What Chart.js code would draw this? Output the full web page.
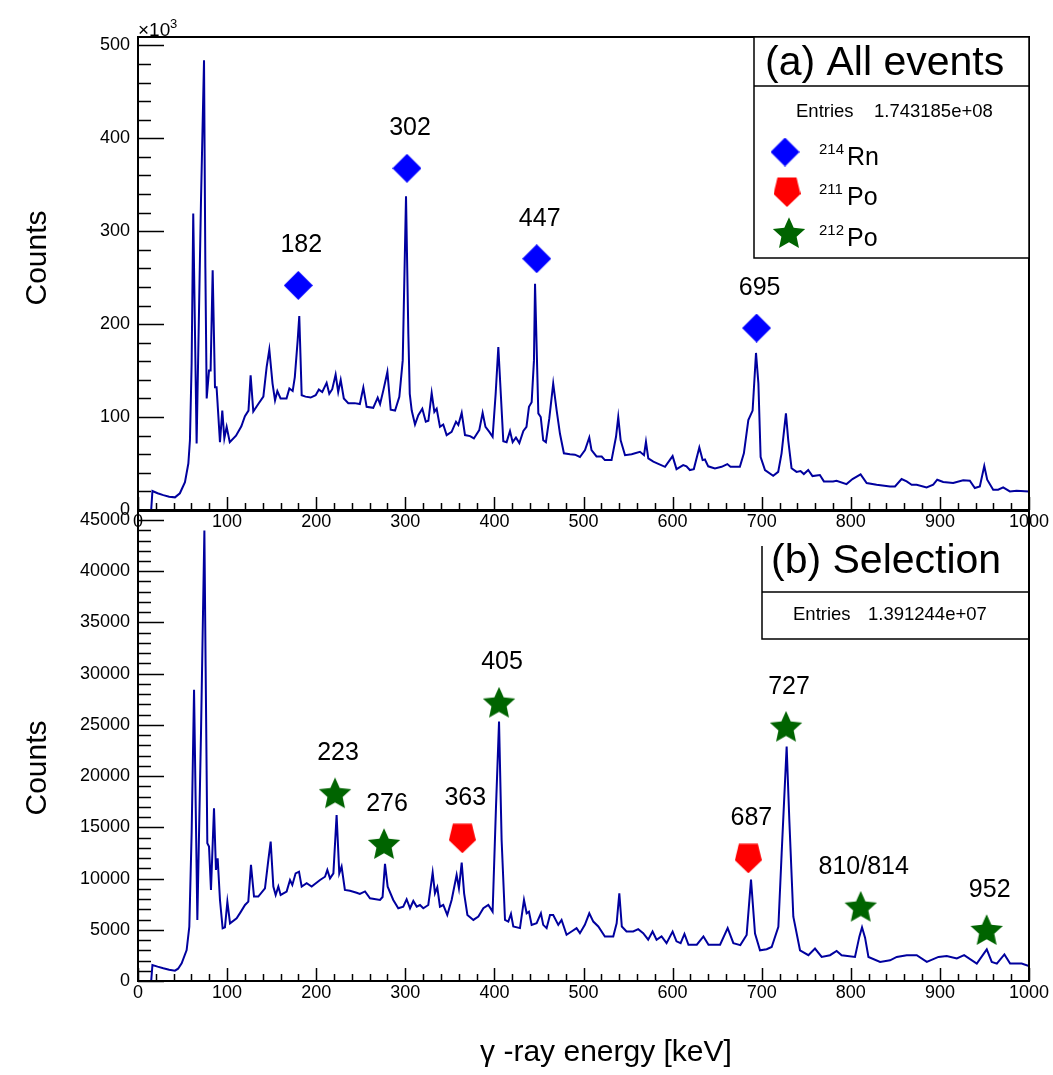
<!DOCTYPE html>
<html><head><meta charset="utf-8">
<script src="https://cdn.jsdelivr.net/npm/chart.js@4.4.0/dist/chart.umd.min.js"></script>
<style>
html,body{margin:0;padding:0;background:#fff;}
#wrap{position:relative;width:1053px;height:1075px;}
canvas{position:absolute;left:0;top:0;}
</style></head><body>
<div id="wrap"><canvas id="cTop" width="1053" height="1075"></canvas><canvas id="cBot" width="1053" height="1075"></canvas></div>
<script>
// ---------------- DATA ----------------
const xTicks = [0,100,200,300,400,500,600,700,800,900,1000];
const topYTicks = [0,100,200,300,400,500];           // x10^3 counts
const botYTicks = [0,5000,10000,15000,20000,25000,30000,35000,40000,45000];

// (a) All events: energy [keV] and counts [x10^3]
const topEnergy = [0,14.8,16.2,22,28.4,35,41.5,47,52.7,56.5,58.3,60.2,62,65.8,70.7,74.1,75.6,77.1,79.7,81.5,83.8,86.4,88.2,92,94.6,96.9,99.5,103,110,116,120,124,126.4,129.4,135,140.7,144.4,147.4,151,153.8,156.4,160,166.7,169.9,173.6,176,179.2,181,183.7,188,193.8,199.4,203,206.8,211.7,214.7,218,221.8,224.7,227.5,231,236,243,249,252.9,256.6,264,269,271.7,275.4,279.9,283.6,288.5,293.3,297.1,300.8,303.4,305,307.2,310.9,314.6,319.1,323,325.9,329.6,332.6,335.2,338.9,342.6,346.4,352,356.9,359.5,363.3,367,372.7,377,383,386.8,390,394.3,398,401.4,404.4,410,413.7,417.5,420.5,424.2,428,432.5,436,438.8,441.8,444.4,445.6,449.3,452,454.8,457.8,461.6,466,469.9,473.6,478,484.8,490.4,496,501.7,506.5,509,514.6,520.4,524,531.5,536.5,539,541.7,546.6,554,563.4,567.9,570.1,572.7,578.4,584,591.5,600,604.4,611.9,615.6,619.4,623.8,630,633.7,636.3,640,647.5,655,661.4,665,675.5,680,685,689.8,693.6,696.3,698.8,703.7,712.9,718.5,722.3,727.2,729.8,733.5,739.1,743.6,747.3,752.2,757,765.3,769.8,780,784,795.2,801.9,811,817.8,829,844,849.6,857,862.7,868.3,873.9,885.1,892.5,897,903.7,914.9,926.1,933.6,939.2,944.8,949.8,953.1,959.8,965.4,971,978.5,986,1000];
const topCounts = [0,0,20.4,18,16,14.3,13.6,18,30,50,75,158,319,71.6,333,484,261,120,150,150,258,132,132,73,107,77,89.5,73,80,90,101,107,145,106,114,122,154,172.6,136,118,128,120,120,130.7,128,143,182.6,208.7,123.5,122,121,123.5,129.6,127,136.8,125,130,145.7,127,140,120,115,115,114,131.8,111,110,121,114,129,148.6,108,107,121.7,161,337.6,190,125,107,92,102,109,95,96,126,105.6,109,89.5,92,80.6,84,95,91.5,104.5,80.6,79.5,77,86,104.5,89.5,84,78.7,125,175.4,74,73,85,73,78,72,85,89.5,111,116,161,243.5,104,100,75,73,98.5,136,107,82,61,60,59.5,57,64.4,78,64.4,57.6,57.6,53.7,53.7,78.8,100,75,59,60,62.6,59,73.4,55.5,52,49.7,46.5,58,44,48.3,47,43,44,67.3,53.7,54.4,47,44.8,46.5,49.4,46.5,46.5,61,96.7,107,169,136,57,43,36.9,41,61,104,75,45,41,42,38.7,43,36.5,37.6,30.8,30.8,31.5,27.9,33.3,38.3,29,27.2,25.4,25.4,33.3,30.8,27.2,27.2,24.3,27.2,32.6,30.1,29,31.9,31.5,23.6,25.4,47.3,32.6,21.8,21.8,24.3,20,20.8,20];

// (b) Selection: energy [keV] and counts
const botEnergy = [0,14.8,16.2,22,28.4,35,41.5,45,49,54.6,57.6,60.2,62.9,66.6,70.7,74.5,75.9,77.8,79.7,81.9,85.3,87.5,89.4,92,95,97.6,100.3,103.3,110.7,115,120.1,123.8,126.8,130.2,135,142.5,146.3,148.9,151.9,154.5,157.5,160.1,166.8,170.6,173.2,176.9,180.7,183.7,189.3,194.9,204.3,209.9,212.5,215.5,219.3,222.9,225.9,228.5,232.2,237.9,245.4,249,254.8,260.4,271.6,274.5,277.2,280.2,286.5,292.1,297.7,301.5,305.3,309,312.8,316.5,320.2,325.8,330.7,333.3,335.9,338.9,342.6,347.1,352,357.6,360.2,363.3,366,369.7,376.4,382,387.6,393.2,398,401.8,405.2,408.1,411.9,415.6,418.6,421.2,428.7,433.2,436.2,438.8,441.8,447.4,452.2,454.8,458.6,462.4,466,471.7,475.4,481,486.6,492.2,496,501.5,506.5,511,516.6,524,533.4,537.2,540.2,543,548.3,555.8,561.4,567,572.6,577.5,582,587.6,593.2,600,604.4,609,613.3,617.8,627.2,634.6,640.3,653.3,661.8,668.2,676,683.1,688,692.5,698.1,705.6,711.2,718.7,722.4,728,731,735.5,743,752.4,759.8,767.3,776.7,784.1,789.7,804.7,809.6,812.6,816,819.8,832.9,844.1,851.6,862.8,874,885.3,898.4,907.7,919,927.2,941.4,952.6,958.2,963.9,972.4,978.8,991.8,1000];
const botCounts = [0,0,1563,1400,1240,1100,1006,1200,1728,3027,5300,14450,28420,5957,24190,43980,30700,13450,13120,8890,16860,10840,11980,7910,5146,5250,7747,5633,6120,6700,7420,7750,11330,8240,8240,9050,11820,13600,9215,8400,9215,8400,8730,9860,9380,10510,10670,9215,9540,9215,9860,10180,10840,10020,10510,16210,10510,11170,8890,8810,8620,8500,8740,8070,7910,8200,11430,9210,7910,7100,7260,7980,7100,7810,7260,7420,7100,7420,10580,8560,9150,7260,7420,6450,7910,10350,9050,11550,8560,6450,5960,6290,7100,7420,6770,17020,25320,13770,5960,5800,6550,5320,5160,7910,6610,6770,5480,5640,6610,5480,5160,6450,6450,5480,5960,4510,4830,5160,4670,5480,6610,5800,5320,4350,4350,5640,8560,5320,4830,4830,5060,4670,4030,4830,4030,4350,3700,4830,3870,3700,4600,3540,3540,4350,3540,3540,5160,3700,3500,4500,9900,4630,3000,3100,3320,5300,12470,22880,15720,6280,3000,2520,3170,2350,2520,2930,2520,2350,4330,5240,4230,2350,1860,2020,2350,2520,2520,1860,2350,2440,2200,2520,1700,3090,1860,1700,2600,1700,1700,1460];

// Peak markers
const topPeakLabels = ['182','302','447','695'];
const topPeakE = [179.9,301.9,447.5,694.3];
const topPeakY = [241.7,367.7,270.4,195.8];
const topPeakIso = ['214Rn','214Rn','214Rn','214Rn'];

const botPeakLabels = ['223','276','363','405','687','727','810/814','952'];
const botPeakE = [221.1,276.1,364,405.2,685,727.3,811.1,952.5];
const botPeakY = [18330,13380,13940,27180,11980,24830,7256,4980];
const botPeakIso = ['212Po','212Po','211Po','212Po','211Po','212Po','212Po','212Po'];

const legendIso = [['214','Rn'],['211','Po'],['212','Po']];
const legendKeys = ['214Rn','211Po','212Po'];
const topTitle = '(a) All events';
const botTitle = '(b) Selection';
const topEntries = '1.743185e+08';
const botEntries = '1.391244e+07';

// ---------------- STYLE ----------------
const FONT = '"Liberation Sans", Arial, Helvetica, sans-serif';
const LINE_COLOR = '#00009e';

function mk(w,h,draw){const c=document.createElement('canvas');c.width=w;c.height=h;const g=c.getContext('2d');draw(g);return c;}
const diamondImg = mk(29,29,g=>{g.fillStyle='#0000ff';g.beginPath();g.moveTo(14.5,0);g.lineTo(29,14.5);g.lineTo(14.5,29);g.lineTo(0,14.5);g.closePath();g.fill();});
const pentImg = mk(27,30,g=>{g.fillStyle='#ff0000';g.beginPath();g.moveTo(4,0.5);g.lineTo(23,0.5);g.lineTo(27,17);g.lineTo(13.5,30);g.lineTo(0,17);g.closePath();g.fill();});
const starImg = mk(34,32,g=>{g.fillStyle='#006400';g.beginPath();const cx=17,cy=17.3,R=17,r=8;for(let i=0;i<10;i++){const a=-Math.PI/2+i*Math.PI/5;const rr=i%2?r:R;const px=cx+rr*Math.cos(a),py=cy+rr*Math.sin(a);if(i)g.lineTo(px,py);else g.moveTo(px,py);}g.closePath();g.fill();});
const isoImg = {'214Rn':diamondImg,'211Po':pentImg,'212Po':starImg};

function pts(xs,ys){return xs.map((x,i)=>({x:x,y:ys[i]}));}

const PANELS = {
  cTop:{yMax:509,yMinor:20,yMajor:100,labels:topPeakLabels,labE:topPeakE,labY:topPeakY,titleY:258},
  cBot:{yMax:45880,yMinor:1000,yMajor:5000,labels:botPeakLabels,labE:botPeakE,labY:botPeakY,titleY:768}
};

function drawTopExtra(ctx){
  ctx.fillStyle='#000'; ctx.textAlign='left'; ctx.textBaseline='alphabetic';
  ctx.font='19px '+FONT; ctx.fillText('\u00d710',138,36);
  ctx.font='13px '+FONT; ctx.fillText('3',170,28);
  const L=754,R=1029,T=37,B=258;
  ctx.fillStyle='#fff'; ctx.fillRect(L,T,R-L,B-T);
  ctx.strokeStyle='#000'; ctx.lineWidth=1.5;
  ctx.strokeRect(L,T,R-L,B-T);
  ctx.beginPath(); ctx.moveTo(L,86); ctx.lineTo(R,86); ctx.stroke();
  ctx.fillStyle='#000';
  ctx.font='41px '+FONT; ctx.fillText(topTitle,765,75);
  ctx.font='18.5px '+FONT; ctx.fillText('Entries',796,117); ctx.fillText(topEntries,874,117);
  const rows=[152,192,233], cxs=[785,787,789];
  legendKeys.forEach((k,i)=>{
    const img=isoImg[k]; ctx.drawImage(img,cxs[i]-img.width/2,rows[i]-img.height/2);
    ctx.fillStyle='#000';
    ctx.font='15px '+FONT; ctx.fillText(legendIso[i][0],819,rows[i]+2);
    ctx.font='25px '+FONT; ctx.fillText(legendIso[i][1],847,rows[i]+13);
  });
}
function drawBotExtra(ctx){
  ctx.fillStyle='#000'; ctx.textAlign='left'; ctx.textBaseline='alphabetic';
  ctx.font='41px '+FONT; ctx.fillText(botTitle,771,573);
  ctx.font='18.5px '+FONT; ctx.fillText('Entries',793,620); ctx.fillText(botEntries,868,620);
  ctx.strokeStyle='#000'; ctx.lineWidth=1.5;
  ctx.beginPath();
  ctx.moveTo(762,546); ctx.lineTo(762,639); ctx.lineTo(1029,639);
  ctx.moveTo(762,592); ctx.lineTo(1029,592);
  ctx.stroke();
  ctx.font='30px '+FONT; ctx.textAlign='center'; ctx.textBaseline='middle';
  ctx.fillText('\u03b3 -ray energy [keV]',606,1053);
}

const framePlugin = {
  id:'rootFrame',
  afterDatasetsDraw(chart){
    const id = chart.canvas.id;
    const o = PANELS[id];
    const ctx = chart.ctx, a = chart.chartArea, xs = chart.scales.x, ys = chart.scales.y;
    ctx.save();
    ctx.strokeStyle='#000'; ctx.lineWidth=1.5;
    ctx.beginPath();
    for(let v=0; v<=1000; v+=20){
      const px = Math.round(xs.getPixelForValue(v))+0.5;
      const len = (v%100===0)?13:7;
      ctx.moveTo(px,a.bottom); ctx.lineTo(px,a.bottom-len);
    }
    for(let v=0; v<=o.yMax; v+=o.yMinor){
      const py = Math.round(ys.getPixelForValue(v))+0.5;
      const len = (v%o.yMajor===0)?26:13;
      ctx.moveTo(a.left,py); ctx.lineTo(a.left+len,py);
    }
    ctx.stroke();
    ctx.lineWidth=2;
    ctx.strokeRect(a.left,a.top,a.right-a.left,a.bottom-a.top);
    ctx.fillStyle='#000'; ctx.font='25px '+FONT; ctx.textAlign='center'; ctx.textBaseline='middle';
    o.labels.forEach((t,i)=>{
      ctx.fillText(t, xs.getPixelForValue(o.labE[i])+3, ys.getPixelForValue(o.labY[i])-40);
    });
    ctx.save(); ctx.translate(38,o.titleY); ctx.rotate(-Math.PI/2);
    ctx.font='30px '+FONT; ctx.textAlign='center'; ctx.textBaseline='middle';
    ctx.fillText('Counts',0,0); ctx.restore();
    if(id==='cTop') drawTopExtra(ctx); else drawBotExtra(ctx);
    ctx.restore();
  }
};
Chart.register(framePlugin);

function scalesFor(yTicks,yMax){
  return {
    x:{type:'linear',min:0,max:1000,
      afterBuildTicks:s=>{s.ticks=xTicks.map(v=>({value:v}));},
      ticks:{font:{family:FONT,size:18},color:'#000',padding:1,maxRotation:0,autoSkip:false,callback:v=>String(v)},
      grid:{display:false,drawTicks:false},border:{display:false},
      afterFit:s=>{s.height=30;}},
    y:{type:'linear',min:0,max:yMax,
      afterBuildTicks:s=>{s.ticks=yTicks.map(v=>({value:v}));},
      ticks:{font:{family:FONT,size:18},color:'#000',padding:8,autoSkip:false,callback:v=>String(v)},
      grid:{display:false,drawTicks:false},border:{display:false},
      afterFit:s=>{s.width=138;}}
  };
}

function makeChart(id,energy,counts,pE,pY,pIso,yTicks,padTop,padBottom){
  return new Chart(document.getElementById(id),{
    type:'line',
    data:{datasets:[
      {data:pts(pE,pY),showLine:false,pointStyle:pIso.map(k=>isoImg[k]),pointRadius:15,clip:false,order:0},
      {data:pts(energy,counts),borderColor:LINE_COLOR,borderWidth:2,pointRadius:0,tension:0,fill:false,order:1}
    ]},
    options:{responsive:false,animation:false,devicePixelRatio:1,
      layout:{autoPadding:false,padding:{left:0,right:24,top:padTop,bottom:padBottom}},
      plugins:{legend:{display:false},tooltip:{enabled:false}},
      scales:scalesFor(yTicks,PANELS[id].yMax),
      events:[]
    }
  });
}

makeChart('cTop',topEnergy,topCounts,topPeakE,topPeakY,topPeakIso,topYTicks,37,535);
makeChart('cBot',botEnergy,botCounts,botPeakE,botPeakY,botPeakIso,botYTicks,511,64);
</script>
</body></html>
